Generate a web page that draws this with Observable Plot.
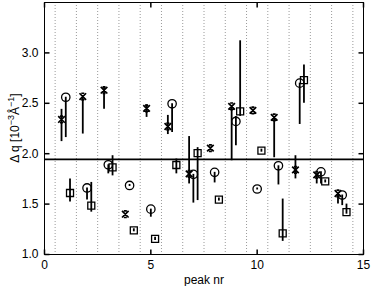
<!DOCTYPE html>
<html><head><meta charset="utf-8">
<script src="https://cdn.jsdelivr.net/npm/d3@7"></script>
<script src="https://cdn.jsdelivr.net/npm/@observablehq/plot@0.6"></script>
<style>body{margin:0;background:#fff}</style>
</head><body><div id="chart"></div>
<script>
const peaks = [1,2,3,4,5,6,7,8,9,10,11,12,13,14];
// series 1 (x marks)
const crossVal = [2.34,2.567,2.63,1.40,2.45,2.27,1.80,2.055,2.47,2.43,2.36,1.84,1.79,1.605];
const crossLo  = [2.12,2.195,2.44,1.40,2.36,2.19,1.70,2.045,1.93,2.42,1.96,1.75,1.70,1.50];
const crossHi  = [2.44,2.57,2.66,1.40,2.485,2.38,2.17,2.065,2.47,2.44,2.36,1.98,1.80,1.61];
// series 2 (circles)
const circVal = [2.56,1.66,1.89,1.685,1.45,2.495,1.795,1.815,2.32,1.65,1.88,2.70,1.82,1.59];
const circLo  = [2.16,1.54,1.80,1.675,1.37,2.21,1.51,1.71,2.08,1.64,1.69,2.29,1.70,1.485];
const circHi  = [2.56,1.66,1.89,1.695,1.45,2.495,1.795,1.815,2.37,1.66,1.88,2.70,1.82,1.59];
// series 3 (squares)
const sqVal = [1.61,1.485,1.865,1.24,1.155,1.888,2.005,1.545,2.42,2.03,1.21,2.73,1.725,1.42];
const sqLo  = [1.52,1.42,1.78,1.225,1.14,1.80,1.535,1.53,2.37,2.015,1.13,2.50,1.71,1.40];
const sqHi  = [1.75,1.715,1.98,1.255,1.17,1.947,2.06,1.56,3.12,2.045,1.55,2.88,1.74,1.50];
const meanLine = [1.944];
const gridX = [0.5,1.5,2.5,3.5,4.5,5.5,6.5,7.5,8.5,9.5,10.5,11.5,12.5,13.5,14.5];
const xTicks = [0,5,10,15];
const yTicks = [1.0,1.5,2.0,2.5,3.0];

const crossSym = {draw(c){const r=3.3;c.moveTo(-r,-r);c.lineTo(r,r);c.moveTo(r,-r);c.lineTo(-r,r);
  c.moveTo(-r*0.45,-r);c.lineTo(r*0.45,-r);c.moveTo(-r*0.45,r);c.lineTo(r*0.45,r);}};
const squareSym = {draw(c){c.rect(-3.5,-3.5,7,7);}};
const circleSym = {draw(c){c.moveTo(4.2,0);c.arc(0,0,4.2,0,2*Math.PI);}};
const tUp = {draw(c){c.moveTo(0,0);c.lineTo(0,-5);}};
const tDown = {draw(c){c.moveTo(0,0);c.lineTo(0,5);}};
const tRight = {draw(c){c.moveTo(0,0);c.lineTo(5,0);}};
const tLeft = {draw(c){c.moveTo(0,0);c.lineTo(-5,0);}};

const series = [
  {off:-0.2, val:crossVal, lo:crossLo, hi:crossHi, sym:crossSym, sw:1.7},
  {off:0.0, val:circVal, lo:circLo, hi:circHi, sym:circleSym, sw:1.3},
  {off:0.2, val:sqVal, lo:sqLo, hi:sqHi, sym:squareSym, sw:1.3}
];
const rows = [];
series.forEach((s,si)=>peaks.forEach((p,i)=>rows.push({px:p+s.off, v:s.val[i], lo:s.lo[i], hi:s.hi[i], s:si})));

const chart = Plot.plot({
  width:374, height:286, marginLeft:44, marginRight:11, marginTop:2, marginBottom:32,
  x:{domain:[0,15]}, y:{domain:[1,3.5]},
  style:{fontFamily:"'Liberation Sans', Arial, sans-serif", fontSize:"12px", color:"black", background:"white"},
  marks:[
    Plot.ruleX(gridX, {x:d=>d, stroke:"#9a9a9a", strokeDasharray:"1,2", strokeWidth:1}),
    Plot.ruleY(meanLine, {y:d=>d, stroke:"black", strokeWidth:1.6}),
    Plot.ruleX(rows, {x:"px", y1:"lo", y2:"hi", stroke:"black", strokeWidth:1.8}),
    ...series.map((s,si)=>Plot.dot(rows.filter(r=>r.s===si), {x:"px", y:"v", symbol:()=>s.sym, stroke:"black", fill:"none", strokeWidth:s.sw})),
    Plot.frame({stroke:"black", strokeWidth:1}),
    Plot.dot(xTicks, {x:d=>d, frameAnchor:"bottom", symbol:()=>tUp, stroke:"black", fill:"none"}),
    Plot.dot(xTicks, {x:d=>d, frameAnchor:"top", symbol:()=>tDown, stroke:"black", fill:"none"}),
    Plot.dot(yTicks, {y:d=>d, frameAnchor:"left", symbol:()=>tRight, stroke:"black", fill:"none"}),
    Plot.dot(yTicks, {y:d=>d, frameAnchor:"right", symbol:()=>tLeft, stroke:"black", fill:"none"}),
    Plot.axisX({ticks:xTicks, tickSize:0, tickPadding:5.5, tickFormat:d3.format("d"), label:null}),
    Plot.axisY({ticks:yTicks, tickSize:0, tickPadding:6, tickFormat:d3.format(".1f"), label:null}),
    Plot.text(["peak nr"], {text:d=>d, frameAnchor:"bottom", dy:29, fontSize:12})
  ]
});
document.getElementById("chart").append(chart);
const svg = d3.select(chart);
const t = svg.append("text").attr("transform","translate(19,128) rotate(-90)")
  .attr("text-anchor","middle").attr("font-size",12).attr("fill","black")
  .attr("font-family","'Liberation Sans', Arial, sans-serif");
t.append("tspan").text("Δ q [10");
t.append("tspan").attr("dy",-5).attr("font-size",9).text("−3");
t.append("tspan").attr("dy",5).text("Å");
t.append("tspan").attr("dy",-5).attr("font-size",9).text("−1");
t.append("tspan").attr("dy",5).text("]");
</script></body></html>
